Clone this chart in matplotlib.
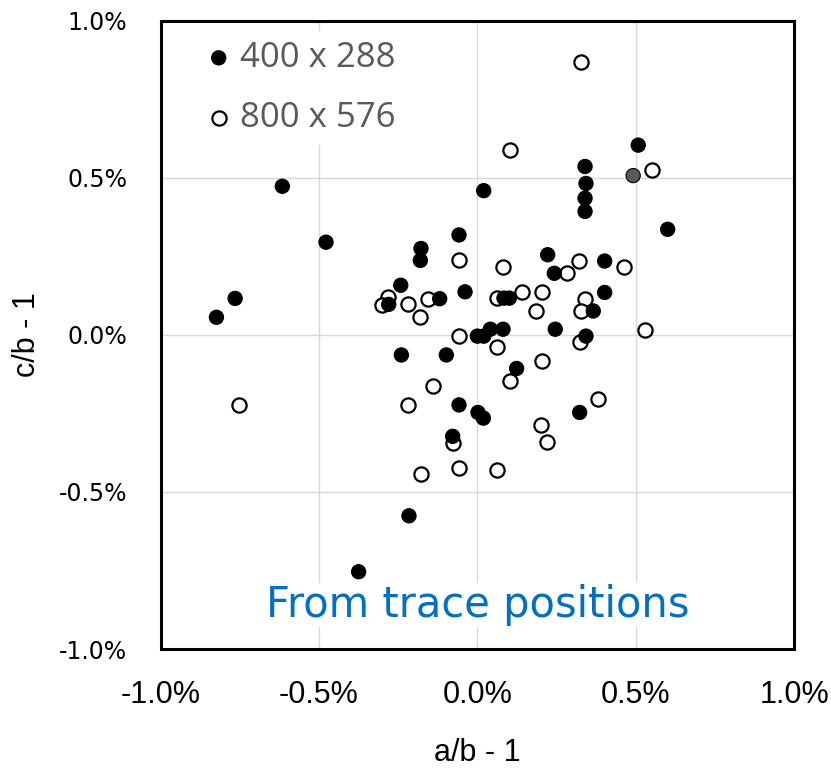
import matplotlib
matplotlib.use('Agg')
import matplotlib.pyplot as plt
from matplotlib.ticker import PercentFormatter

# values are in percent (a/b - 1, c/b - 1)
low_x = [-0.616, -0.478, -0.765, -0.824, -0.058, -0.178, -0.180, -0.242, -0.039, -0.119,
         -0.280, 0.020, 0.508, 0.340, 0.492, 0.343, 0.340, 0.340, 0.601, 0.222,
         0.243, 0.402, 0.084, 0.101, 0.366, 0.402, 0.246, 0.041, 0.081, 0.000,
         0.020, 0.343, -0.240, -0.098, -0.058, 0.002, 0.019, -0.078, -0.216, -0.375,
         0.124, 0.323]
low_y = [0.473, 0.295, 0.116, 0.056, 0.318, 0.275, 0.237, 0.158, 0.137, 0.115,
         0.097, 0.459, 0.604, 0.536, 0.507, 0.482, 0.435, 0.393, 0.336, 0.255,
         0.196, 0.235, 0.117, 0.117, 0.076, 0.135, 0.018, 0.018, 0.018, -0.004,
         -0.004, -0.004, -0.064, -0.064, -0.223, -0.247, -0.265, -0.323, -0.576, -0.754,
         -0.107, -0.247]

high_x = [0.327, 0.103, 0.552, -0.059, 0.082, 0.284, 0.322, 0.462, -0.157, -0.281,
          -0.302, -0.220, -0.180, -0.059, 0.062, 0.142, 0.204, 0.184, 0.341, 0.326,
          0.529, 0.323, 0.062, -0.140, -0.754, -0.220, -0.078, -0.058, -0.178, 0.103,
          0.204, 0.382, 0.202, 0.219, 0.062]
high_y = [0.869, 0.588, 0.525, 0.237, 0.217, 0.196, 0.235, 0.217, 0.115, 0.119,
          0.096, 0.097, 0.056, -0.004, 0.117, 0.135, 0.135, 0.076, 0.115, 0.076,
          0.017, -0.024, -0.040, -0.164, -0.223, -0.223, -0.344, -0.423, -0.444, -0.146,
          -0.082, -0.205, -0.286, -0.340, -0.429]

series_labels = ['400 x 288', '800 x 576']
ticks = [-1.0, -0.5, 0.0, 0.5, 1.0]
note = 'From trace positions'

# one of the low-res points is drawn grey in the original
grey_index = 14

plt.rcParams['axes.unicode_minus'] = False

fig = plt.figure(figsize=(8.31, 7.73), dpi=100)
ax = fig.add_axes([0.1934, 0.1604, 0.7621, 0.8128])

low_colors = ['black'] * len(low_x)
low_colors[grey_index] = '#595959'

ax.scatter(high_x, high_y, s=105, facecolors='white', edgecolors='black',
           linewidths=1.6, zorder=3, label=series_labels[1])
ax.scatter(low_x, low_y, s=105, c=low_colors, edgecolors='black',
           linewidths=0.8, zorder=4, label=series_labels[0])

ax.set_xlim(-1, 1)
ax.set_ylim(-1, 1)
ax.set_xticks(ticks)
ax.set_yticks(ticks)
ax.xaxis.set_major_formatter(PercentFormatter(decimals=1))
ax.yaxis.set_major_formatter(PercentFormatter(decimals=1))
ax.tick_params(length=0)
ax.tick_params(axis='x', pad=22, labelsize=22)
ax.tick_params(axis='y', pad=24, labelsize=17)
for lab in ax.get_xticklabels():
    lab.set_family('Liberation Sans')
for lab in ax.get_yticklabels():
    lab.set_family('DejaVu Sans')

ax.grid(True, color='#d9d9d9', linewidth=1)
ax.set_axisbelow(True)
for sp in ax.spines.values():
    sp.set_linewidth(2.2)
    sp.set_color('black')

ax.set_xlabel('a/b - 1', family='Liberation Sans', fontsize=22)
ax.set_ylabel('c/b - 1', family='Liberation Sans', fontsize=22)
ax.xaxis.set_label_coords(0.5, -0.142)
ax.yaxis.set_label_coords(-0.187, 0.5)

handles, labels = ax.get_legend_handles_labels()
leg = ax.legend(handles[::-1], labels[::-1], loc='upper left',
                bbox_to_anchor=(0.034, 1.012), frameon=True, fancybox=False,
                edgecolor='none', facecolor='white', framealpha=1,
                handlelength=0.5, handletextpad=0.35, labelspacing=0.75,
                borderpad=0.3, prop={'family': 'Open Sans', 'size': 25})
for t in leg.get_texts():
    t.set_color('#595959')

ax.text(0.5, 0.07, note, transform=ax.transAxes, ha='center', va='center',
        fontsize=30, color='#0070C0', family='DejaVu Sans', zorder=2.5,
        bbox=dict(facecolor='white', edgecolor='none', pad=1))

fig.savefig('out.png', dpi=100)
